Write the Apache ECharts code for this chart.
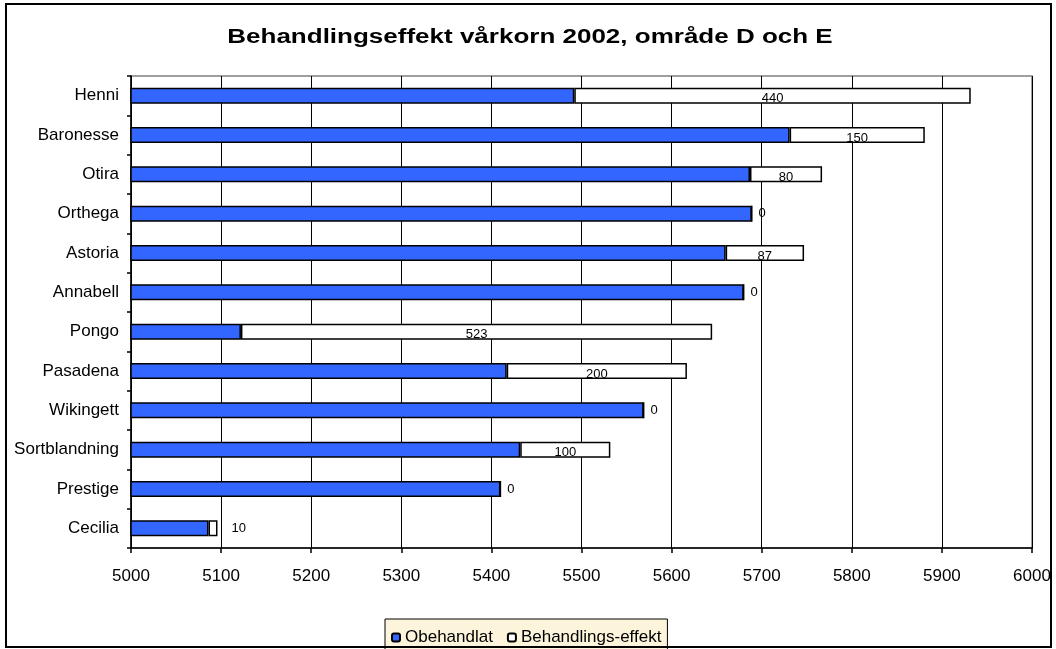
<!DOCTYPE html>
<html>
<head>
<meta charset="utf-8">
<script src="https://cdn.jsdelivr.net/npm/echarts@6/dist/echarts.min.js"></script>
<style>
  html, body { margin: 0; padding: 0; background: #fff; }
  #main { width: 1056px; height: 649px; }
</style>
</head>
<body>
<div id="main"></div>
<script>
var titel = 'Behandlingseffekt vårkorn 2002, område D och E';
var sorter = ['Henni', 'Baronesse', 'Otira', 'Orthega', 'Astoria', 'Annabell',
  'Pongo', 'Pasadena', 'Wikingett', 'Sortblandning', 'Prestige', 'Cecilia'];
var obehandlat = [5492, 5731, 5687, 5689, 5660, 5680, 5122, 5417, 5569, 5432, 5410, 5086];
var effekt = [440, 150, 80, 0, 87, 0, 523, 200, 0, 100, 0, 10];

var chart = echarts.init(document.getElementById('main'));

// små värden får etiketten till höger om stapeln
var effektData = [];
for (var i = 0; i < effekt.length; i++) {
  if (effekt[i] < 20) {
    effektData.push({ value: effekt[i], label: { position: 'right', distance: effekt[i] > 0 ? 14 : 6, offset: [0, 0] } });
  } else {
    effektData.push(effekt[i]);
  }
}

var option = {
  backgroundColor: '#fff',
  animation: false,
  textStyle: { fontFamily: 'Liberation Sans, Arial, sans-serif' },
  legend: {
    data: ['Obehandlat', 'Behandlings-effekt'],
    left: 385,
    top: 619,
    padding: [10, 6, 10, 6],
    itemWidth: 8,
    itemHeight: 8,
    itemGap: 14,
    backgroundColor: '#FCF5DC',
    borderColor: '#000',
    borderWidth: 1,
    textStyle: { fontSize: 17, color: '#000', padding: [4, 0, 0, 0] }
  },
  grid: {
    left: 131,
    top: 76,
    right: 24,
    bottom: 101,
    show: true,
    borderColor: '#808080',
    borderWidth: 1.5
  },
  xAxis: {
    type: 'value',
    min: 5000,
    max: 6000,
    interval: 100,
    axisLine: { show: true, lineStyle: { color: '#000', width: 1.5 } },
    axisTick: { show: true, length: 5, lineStyle: { color: '#000', width: 1.5 } },
    axisLabel: { fontSize: 17, color: '#000', margin: 20, formatter: function (v) { return String(v); } },
    splitLine: { show: true, lineStyle: { color: '#000', width: 1 } }
  },
  yAxis: {
    type: 'category',
    data: sorter,
    inverse: true,
    axisLine: { show: true, lineStyle: { color: '#000', width: 1.5 } },
    axisTick: { show: true, length: 4, lineStyle: { color: '#000', width: 1.5 } },
    axisLabel: { fontSize: 17, color: '#000', margin: 12 },
    splitLine: { show: false }
  },
  series: [{
    name: 'Obehandlat',
    type: 'bar',
    stack: 'a',
    barWidth: 16,
    data: obehandlat,
    itemStyle: { color: '#3366FF', borderColor: '#000', borderWidth: 1.5 }
  }, {
    name: 'Behandlings-effekt',
    type: 'bar',
    stack: 'a',
    barWidth: 16,
    data: effektData,
    itemStyle: { color: '#fff', borderColor: '#000', borderWidth: 1.5 },
    label: {
      show: true,
      position: 'inside',
      offset: [0, 3],
      fontSize: 13,
      color: '#000'
    }
  }],
  graphic: [{
    type: 'text',
    silent: true,
    x: 530,
    y: 37,
    scaleX: 1.3,
    style: {
      text: titel,
      textAlign: 'center',
      textVerticalAlign: 'middle',
      font: 'bold 20px "Liberation Sans", Arial, sans-serif',
      fill: '#000'
    }
  }, {
    type: 'rect',
    silent: true,
    z: 100,
    shape: { x: 6, y: 4, width: 1045, height: 643 },
    style: { fill: 'none', stroke: '#000', lineWidth: 2 }
  }]
};
chart.setOption(option);
</script>
</body>
</html>
